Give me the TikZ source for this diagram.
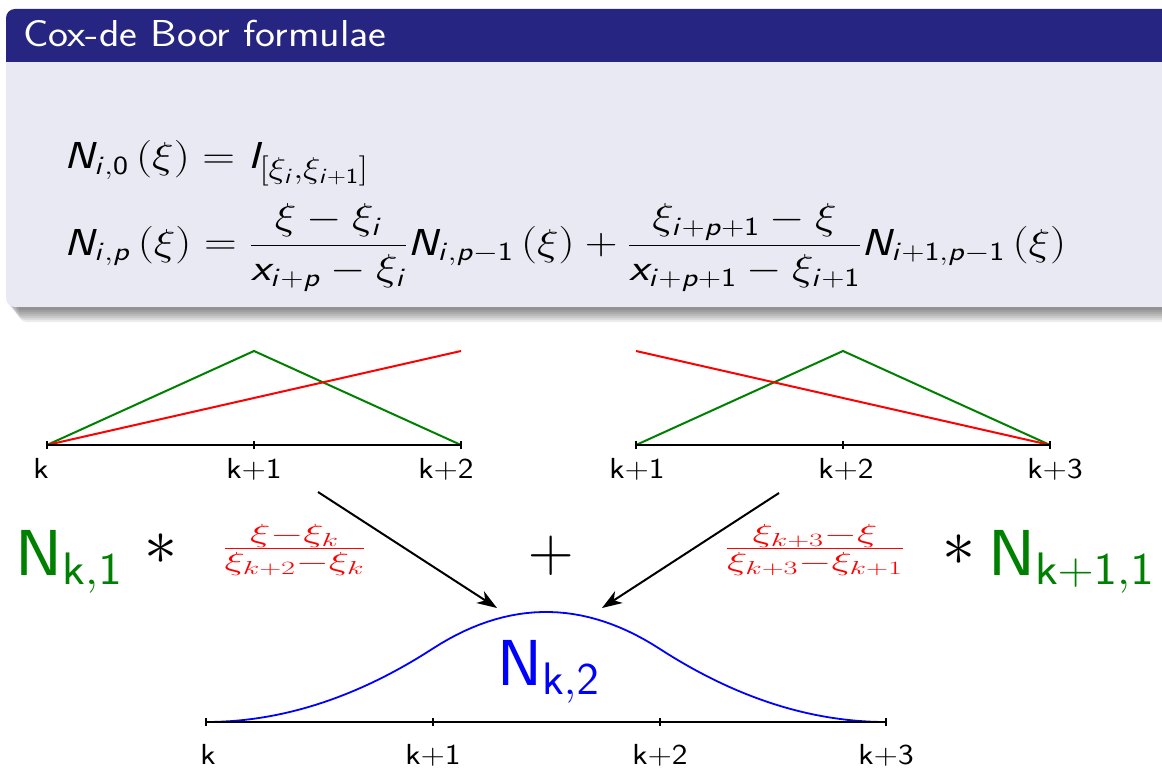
\RequirePackage{fix-cm}
\documentclass[tikz,border=0pt]{standalone}
\usepackage{graphicx}
\usetikzlibrary{arrows.meta}
\DeclareMathAlphabet{\mathsfit}{OT1}{cmss}{m}{sl}
\newcommand{\si}[1]{\mathsfit{#1}}
\newcommand{\su}[1]{\mathsf{#1}}
\definecolor{titleblue}{RGB}{38,38,130}
\definecolor{bodybg}{RGB}{233,233,243}
\definecolor{dgreen}{RGB}{0,128,0}
\tikzset{
  axisline/.style={line width=2.6pt, black},
  tickmark/.style={line width=1.6pt, black},
  greenline/.style={line width=2pt, dgreen},
  redline/.style={line width=2pt, red},
  lbl/.style={anchor=base, inner sep=0pt, font=\fontsize{29}{34}\selectfont\sffamily},
  bigtxt/.style={anchor=base west, inner sep=0pt},
  arr/.style={line width=2pt, -{Stealth[length=20pt,width=14pt,inset=6pt]}}
}
\newcommand{\lb}[1]{\scalebox{1.15}[1]{#1}}
\newcommand{\wide}[1]{\scalebox{1.09}[1]{#1}}
\begin{document}
\begin{tikzpicture}[x=1pt,y=-1pt]
\useasboundingbox (0,0) rectangle (1162,770);
\fill[white] (0,0) rectangle (1162,770);
% shadow
\foreach \i in {1,...,8}{
  \fill[black, opacity=0.075, rounded corners=8pt] (6+\i*1.6,70) rectangle (1175,306+\i*2);
}
% block body
\fill[bodybg] (1175,60) -- (6,60) [rounded corners=9pt] -- (6,307) [sharp corners] -- (1175,307) -- cycle;
% title bar
\fill[titleblue] (1175,62) -- (6,62) [rounded corners=9pt] -- (6,9) [sharp corners] -- (1175,9) -- cycle;
\node[bigtxt, text=white, font=\fontsize{37.5}{45}\selectfont\sffamily] (title) at (23,47) {\scalebox{1.13}[1]{Cox-de Boor formulae}};
% formulas
\node[bigtxt, font=\fontsize{37.5}{45}\selectfont] (f1) at (64,169)
  {\scalebox{1.21}[1]{$\si{N}_{\si{i},\su{0}}\left(\xi\right)=\si{I}_{\scalebox{1.15}{$\scriptstyle[\xi_{\si{i}},\xi_{\si{i}+\su{1}}]$}}$}};
\node[bigtxt, font=\fontsize{37.5}{45}\selectfont] (f2) at (64,255)
  {\scalebox{1.21}[1]{$\displaystyle \si{N}_{\si{i},\si{p}}\left(\xi\right)=\frac{\xi-\xi_{\si{i}}}{\si{x}_{\si{i}+\si{p}}-\xi_{\si{i}}}\si{N}_{\si{i},\si{p}-\su{1}}\left(\xi\right)+\frac{\xi_{\si{i}+\si{p}+\su{1}}-\xi}{\si{x}_{\si{i}+\si{p}+\su{1}}-\xi_{\si{i}+\su{1}}}\si{N}_{\si{i}+\su{1},\si{p}-\su{1}}\left(\xi\right)$}};
% left small plot
\draw[greenline] (47,445) -- (254,351) -- (461,445);
\draw[redline] (47,445) -- (461,351);
\draw[axisline] (47,445) -- (461,445);
\foreach \x in {47,254,461} \draw[tickmark] (\x,441) -- (\x,449);
\node[lbl] (l1) at (41,478) {\lb{k}};
\node[lbl] (l2) at (254,478) {\lb{k+1}};
\node[lbl] (l3) at (446,478) {\lb{k+2}};
% right small plot
\draw[greenline] (636,445) -- (843,351) -- (1050,445);
\draw[redline] (636,351) -- (1050,445);
\draw[axisline] (636,445) -- (1050,445);
\foreach \x in {636,843,1050} \draw[tickmark] (\x,441) -- (\x,449);
\node[lbl] (r1) at (637,478) {\lb{k+1}};
\node[lbl] (r2) at (846,478) {\lb{k+2}};
\node[lbl] (r3) at (1055,478) {\lb{k+3}};
% middle row
\node[bigtxt, text=dgreen, font=\fontsize{65}{72}\selectfont\sffamily] (nk1) at (15,575) {\wide{N$_{\mathsf{k,1}}$}};
\node[anchor=center, inner sep=0pt, font=\fontsize{66}{72}\selectfont] (st1) at (161,549) {$*$};
\node[anchor=base, inner sep=0pt, text=red, font=\fontsize{37.5}{45}\selectfont] (fr1) at (294.5,557.4)
  {\scalebox{1.62}[1]{$\frac{\xi-\xi_k}{\xi_{k+2}-\xi_k}$}};
\node[anchor=center, inner sep=0pt, font=\fontsize{63}{70}\selectfont] (plus) at (551,556) {$+$};
\node[anchor=base, inner sep=0pt, text=red, font=\fontsize{37.5}{45}\selectfont] (fr2) at (815,557.4)
  {\scalebox{1.62}[1]{$\frac{\xi_{k+3}-\xi}{\xi_{k+3}-\xi_{k+1}}$}};
\node[anchor=center, inner sep=0pt, font=\fontsize{66}{72}\selectfont] (st2) at (959,550) {$*$};
\node[bigtxt, text=dgreen, font=\fontsize{65}{72}\selectfont\sffamily] (nk2) at (988,575) {\wide{N$_{\mathsf{k+1,1}}$}};
% arrows
\coordinate (a1s) at (318,492);
\coordinate (a1e) at (497,608);
\coordinate (a2s) at (779,493);
\coordinate (a2e) at (602,608);
\draw[arr] (a1s) -- (a1e);
\draw[arr] (a2s) -- (a2e);
% bottom plot
\draw[line width=1.8pt, blue]
  plot[domain=0:1, samples=30] ({206+226.7*\x},{722-146.7*0.5*\x*\x})
  -- plot[domain=1:2, samples=30] ({206+226.7*\x},{722-146.7*0.5*(-2*\x*\x+6*\x-3)})
  -- plot[domain=2:3, samples=30] ({206+226.7*\x},{722-146.7*0.5*(3-\x)*(3-\x)});
\draw[axisline] (206,722) -- (886,722);
\foreach \x in {206,433,660,886} \draw[tickmark] (\x,718) -- (\x,726);
\node[bigtxt, text=blue, font=\fontsize{65}{72}\selectfont\sffamily] (nk2b) at (497,685) {\scalebox{1.04}[1]{N$_{\mathsf{k,2}}$}};
\node[lbl] (b1) at (208,764) {\lb{k}};
\node[lbl] (b2) at (433,764) {\lb{k+1}};
\node[lbl] (b3) at (660,764) {\lb{k+2}};
\node[lbl] (b4) at (886,764) {\lb{k+3}};
\end{tikzpicture}
\end{document}
